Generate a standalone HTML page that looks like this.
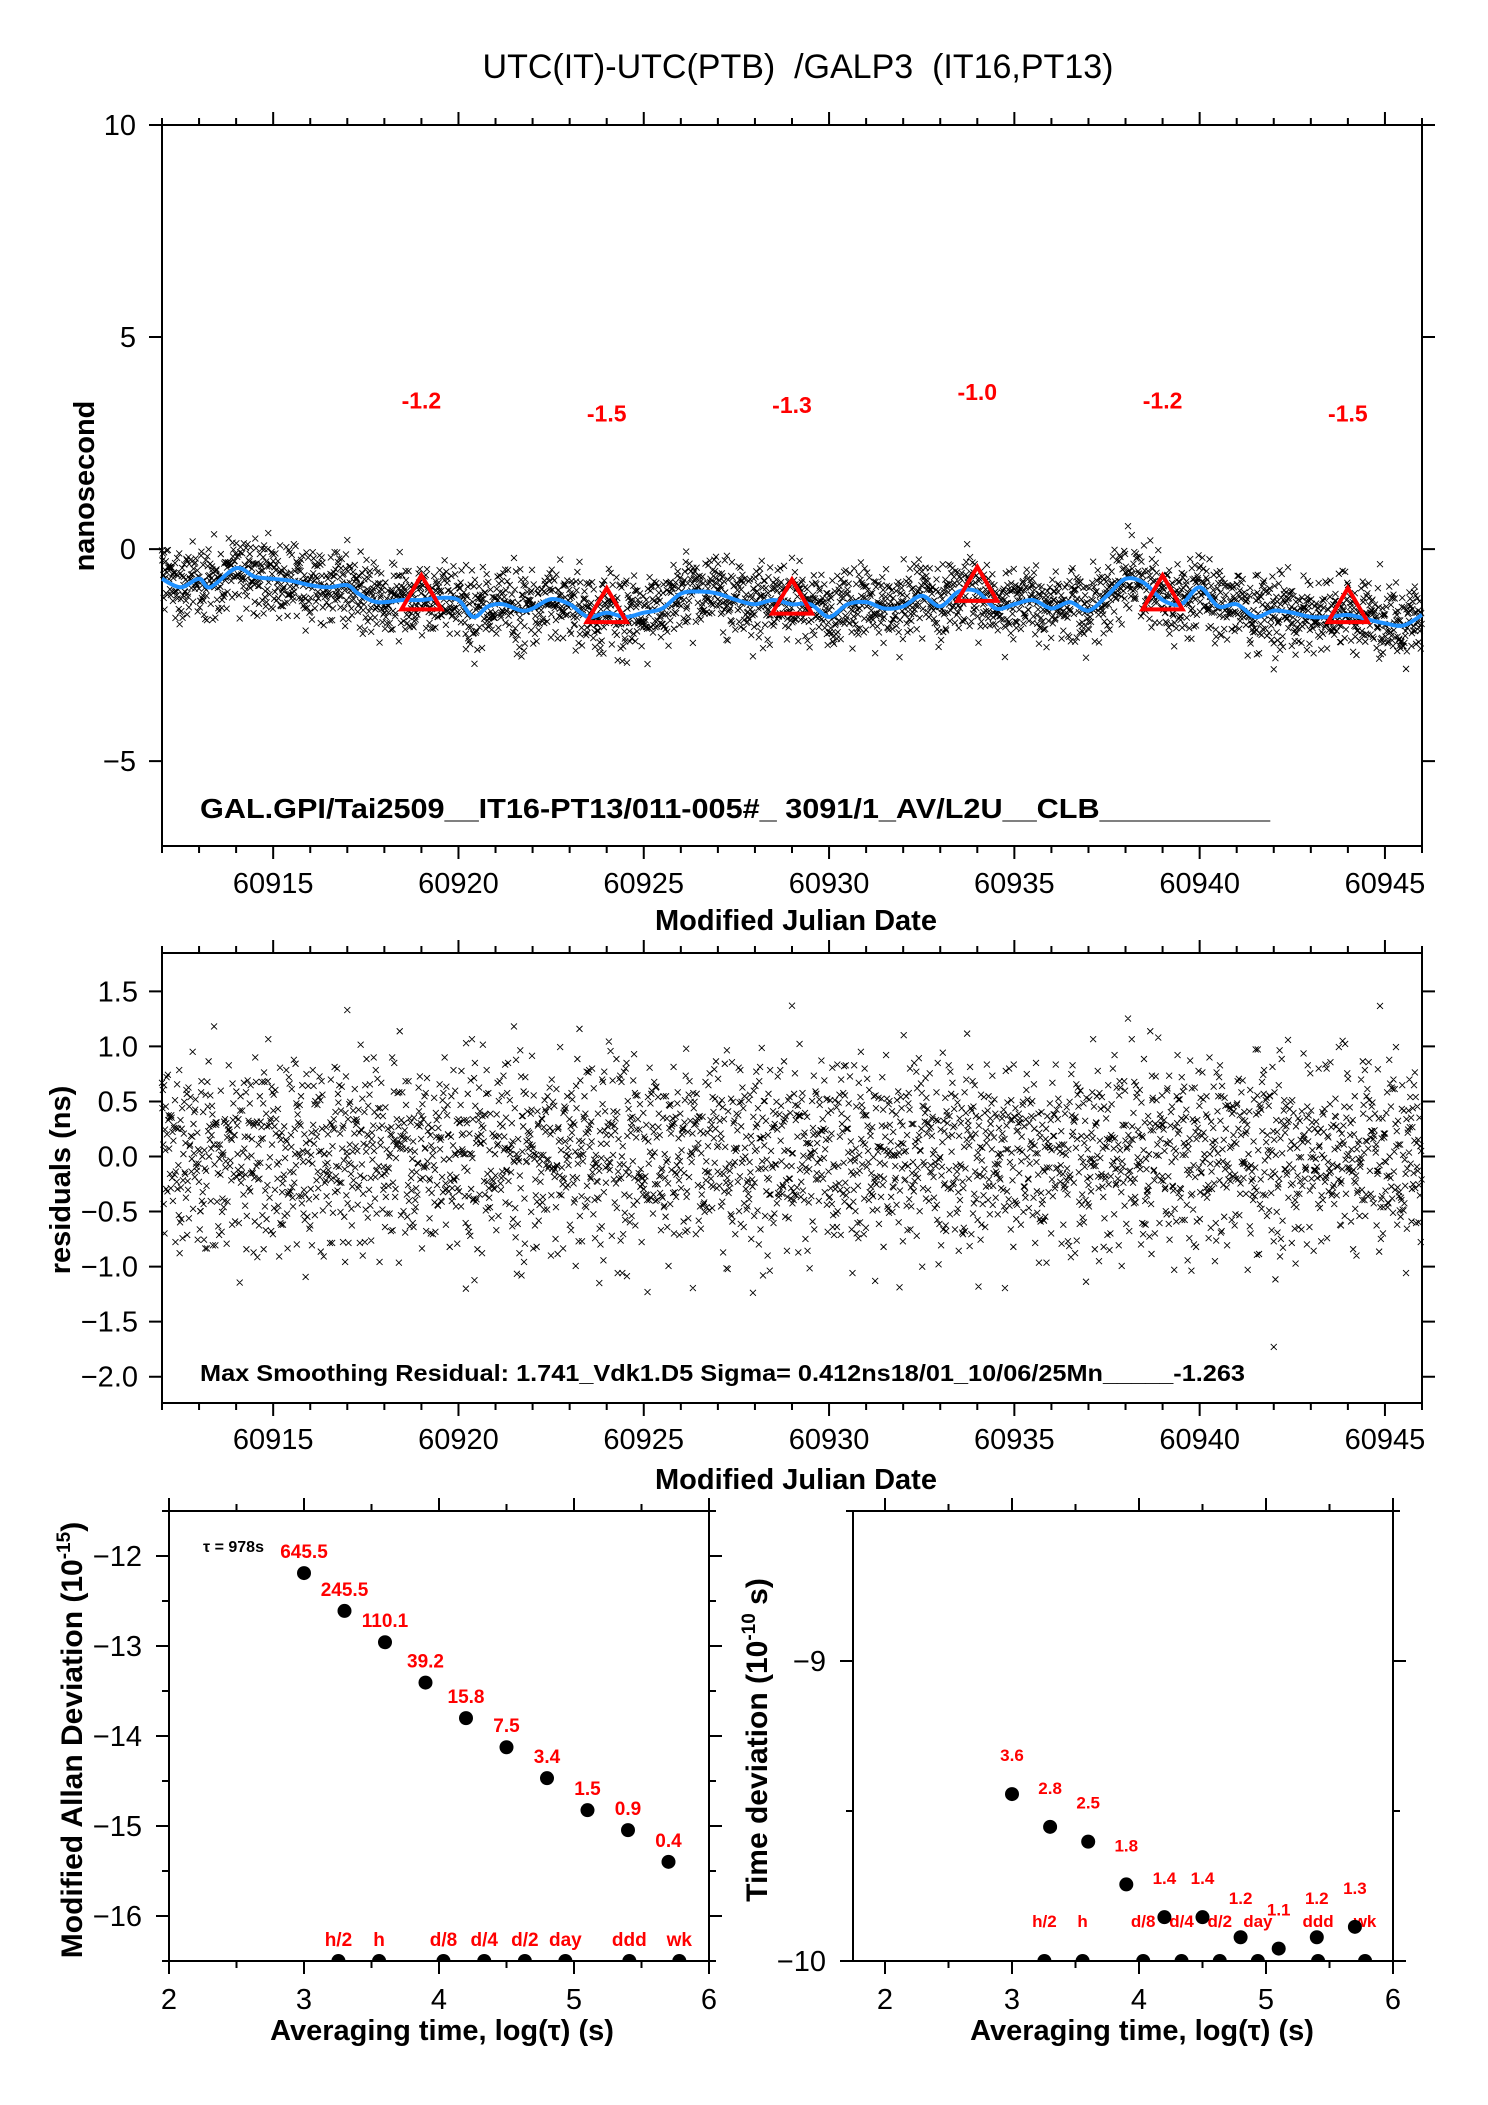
<!DOCTYPE html>
<html><head><meta charset="utf-8"><style>
html,body{margin:0;padding:0;background:#fff;}
svg{display:block;font-family:"Liberation Sans",Arial,sans-serif;}
</style></head><body>
<svg id="fig" width="1488" height="2105" viewBox="0 0 1488 2105" xmlns="http://www.w3.org/2000/svg">
<rect x="0" y="0" width="1488" height="2105" fill="#fff"/>
<text x="798" y="78" font-size="34" text-anchor="middle" xml:space="preserve">UTC(IT)-UTC(PTB)  /GALP3  (IT16,PT13)</text>
<g id="g1"></g>
<g id="g2"></g>
<g id="g3"></g>
<g id="g4"></g>
</svg>
<script>
const smoothT = [60912,60912.5,60913,60913.3,60914,60914.5,60915,60915.5,60916,60916.5,60917,60917.3,60917.8,60918.5,60919,60919.5,60920,60920.4,60920.8,60921.2,60921.7,60922,60922.5,60923,60923.5,60924,60924.5,60925,60925.5,60926,60926.5,60927,60927.5,60928,60928.5,60929,60929.5,60930,60930.5,60931,60931.5,60932,60932.5,60933,60933.5,60934,60934.5,60935,60935.5,60936,60936.5,60937,60937.5,60938,60938.5,60939,60939.5,60940,60940.5,60941,60941.5,60942,60942.5,60943,60943.5,60944,60944.5,60945,60945.5,60946];
const smoothV = [-0.7,-0.9,-0.7,-0.9,-0.45,-0.65,-0.7,-0.75,-0.85,-0.9,-0.85,-1.05,-1.25,-1.2,-1.2,-1.15,-1.2,-1.6,-1.35,-1.3,-1.45,-1.4,-1.18,-1.3,-1.6,-1.5,-1.6,-1.5,-1.4,-1.05,-1.0,-1.05,-1.2,-1.3,-1.2,-1.3,-1.3,-1.6,-1.3,-1.25,-1.4,-1.35,-1.1,-1.35,-1.0,-1.0,-1.4,-1.3,-1.2,-1.4,-1.25,-1.45,-1.1,-0.7,-0.8,-1.2,-1.3,-0.9,-1.35,-1.3,-1.6,-1.45,-1.5,-1.6,-1.6,-1.55,-1.65,-1.75,-1.8,-1.55];
const triT = [60919,60924,60929,60934,60939,60944];
const triV = [-1.2,-1.5,-1.3,-1.0,-1.2,-1.5];
const triLabels = ["-1.2","-1.5","-1.3","-1.0","-1.2","-1.5"];
const residuals = [0.31,-0.12,0.45,-0.38,0.08,0.62,-0.55,0.19,-0.04,0.27,-0.71,0.36,0.02,-0.22,0.51,-0.47,0.14,-0.09,0.73,-0.31,
0.22,-0.64,0.05,0.41,-0.18,0.33,-0.85,0.11,0.58,-0.27,-0.02,0.39,-0.49,0.17,0.66,-0.13,0.24,-0.58,0.07,0.44,
-0.35,0.12,-0.79,0.29,0.53,-0.06,-0.41,0.21,0.88,-0.24,0.03,-0.52,0.37,-0.15,0.61,-0.33,0.09,-0.68,0.26,0.47,
-0.11,0.34,-0.44,0.16,-0.92,0.42,0.01,-0.29,0.55,-0.19,0.28,-0.61,0.13,0.71,-0.37,0.06,-0.26,0.49,-0.53,0.18,
0.35,-0.08,0.63,-0.42,0.1,-0.74,0.23,0.4,-0.16,0.52,-0.32,0.04,-0.57,0.3,0.84,-0.21,0.15,-0.46,0.38,-0.03,
-0.66,0.25,0.57,-0.14,0.43,-0.39,0.07,-0.81,0.32,0.12,-0.23,0.6,-0.5,0.2,-0.07,0.46,-0.34,0.95,-0.17,0.27,
0.11,-0.59,0.36,-0.28,0.69,-0.1,0.19,-0.45,0.54,-0.2,0.0,-0.72,0.41,0.08,-0.36,0.3,-0.62,0.14,0.77,-0.25,
0.5,-0.05,-0.43,0.22,-1.02,0.37,0.16,-0.3,0.64,-0.13,0.29,-0.54,0.09,0.45,-0.4,0.18,-0.67,0.35,-0.01,0.58,
-0.19,0.26,-0.48,0.13,0.81,-0.33,0.05,-0.6,0.4,-0.11,0.21,-0.76,0.32,0.67,-0.22,0.1,-0.37,0.48,-0.56,0.03,
0.39,-0.15,0.6,-0.44,0.24,-0.88,0.17,0.52,-0.09,0.31,-0.27,0.74,-0.51,0.12,-0.03,0.43,-0.35,0.2,-0.65,0.28,
0.93,-0.21,0.08,-0.47,0.56,-0.12,0.34,-0.7,0.15,0.62,-0.31,0.02,-0.55,0.38,-0.18,0.47,-0.41,0.23,-0.96,0.3,
0.06,-0.26,0.51,-0.14,0.71,-0.39,0.19,-0.58,0.42,-0.06,0.27,-0.83,0.36,0.1,-0.29,0.55,-0.49,0.14,0.97,-0.24,
0.33,-0.1,-0.63,0.25,0.46,-0.36,0.04,-0.52,0.6,-0.16,0.21,-0.43,0.09,0.79,-0.32,0.17,-0.69,0.4,-0.02,0.35,
-0.2,0.5,-0.45,0.12,-1.12,0.29,0.65,-0.28,0.07,-0.5,0.37,-0.13,0.57,-0.37,0.18,-0.6,0.44,-0.07,0.24,-0.77,
0.32,0.86,-0.23,0.11,-0.4,0.53,-0.17,0.28,-0.73,0.2,-0.33,0.47,-0.54,0.16,0.69,-0.12,0.3,-0.46,0.05,-0.62];
const outlierT = [60917.0,60929.0,60942.0,60920.2,60923.8];
const outlierV = [1.33,1.37,-1.73,-1.2,-1.15];
const mdevX = [3,3.3,3.6,3.9,4.2,4.5,4.8,5.1,5.4,5.7];
const mdevVal = [645.5,245.5,110.1,39.2,15.8,7.5,3.4,1.5,0.9,0.4];
const mdevLabels = ["645.5","245.5","110.1","39.2","15.8","7.5","3.4","1.5","0.9","0.4"];
const tdevX = [3,3.3,3.6,3.9,4.2,4.5,4.8,5.1,5.4,5.7];
const tdevVal = [3.6,2.8,2.5,1.8,1.4,1.4,1.2,1.1,1.2,1.3];
const tdevLabels = ["3.6","2.8","2.5","1.8","1.4","1.4","1.2","1.1","1.2","1.3"];
const markNames = ["h/2","h","d/8","d/4","d/2","day","ddd","wk"];
const markX = [3.255,3.556,4.033,4.335,4.636,4.936,5.41,5.78];
const topYTicks = [10,5,0,-5];
const topYTickLabels = ["10","5","0","\u22125"];
const resYTicks = [1.5,1.0,0.5,0.0,-0.5,-1.0,-1.5,-2.0];
const resYTickLabels = ["1.5","1.0","0.5","0.0","\u22120.5","\u22121.0","\u22121.5","\u22122.0"];
const mjdTicks = [60915,60920,60925,60930,60935,60940,60945];
const mdevYTicks = [-12,-13,-14,-15,-16];
const mdevYTickLabels = ["\u221212","\u221213","\u221214","\u221215","\u221216"];
const tdevYTicks = [-9,-10];
const tdevYTickLabels = ["\u22129","\u221210"];
const logTicks = [2,3,4,5,6];

const NS='http://www.w3.org/2000/svg';
function mk(tag, attrs, parent){const e=document.createElementNS(NS,tag);for(const k in attrs)e.setAttribute(k,attrs[k]);parent.appendChild(e);return e;}
function lin(d0,d1,r0,r1){return v=>r0+(v-d0)*(r1-r0)/(d1-d0);}
function interp(t){for(let i=0;i<smoothT.length-1;i++){if(t<=smoothT[i+1]){const f=(t-smoothT[i])/(smoothT[i+1]-smoothT[i]);return smoothV[i]+f*(smoothV[i+1]-smoothV[i]);}}return smoothV[smoothV.length-1];}
function frame(g,L,T,R,B){mk('rect',{x:L,y:T,width:R-L,height:B-T,fill:'none',stroke:'#000','stroke-width':2},g);}
const NPTS=3000;
function resAt(i){const N=residuals.length;return 0.72*(residuals[i%N]+residuals[(i*13+5+Math.floor(i/N)*37)%N]);}
function cross(xx,yy){return `M${xx-3},${yy-3}l6,6M${xx-3},${yy+3}l6,-6`;}

(function(){
const g=document.getElementById('g1');
const L=162,R=1422,T=125,B=846;
const x=lin(60912,60946,L,R), y=lin(10,-7,T,B);
frame(g,L,T,R,B);
let p='';
for(let d=60912;d<=60946;d++){const len=(d%5===0)?13:7;const xx=x(d);p+=`M${xx},${B}v${len}M${xx},${T}v${-len}`;}
topYTicks.forEach(v=>{p+=`M${L},${y(v)}h-13M${R},${y(v)}h13`;});
const ax=mk('path',{d:p,stroke:'#000','stroke-width':2,fill:'none'},g);


mjdTicks.forEach(v=>{const t=mk('text',{x:x(v),y:893,'font-size':29,'text-anchor':'middle'},g);t.textContent=v;

});
topYTicks.forEach((v,i)=>{const t=mk('text',{x:136,y:y(v)+10,'font-size':29,'text-anchor':'end'},g);t.textContent=topYTickLabels[i];

});
let sp='';
for(let i=0;i<NPTS;i++){const t=60912+i*34/NPTS;sp+=cross(x(t),y(interp(t)+resAt(i)));}
outlierT.forEach((t,i)=>{sp+=cross(x(t),y(interp(t)+outlierV[i]*0.8));});
const sc=mk('path',{d:sp,stroke:'#000','stroke-width':0.9,fill:'none'},g);


const pts=smoothT.map((t,i)=>[x(t),y(smoothV[i])]);
let c=`M${pts[0][0]},${pts[0][1]}`;
for(let i=0;i<pts.length-1;i++){const p0=pts[Math.max(0,i-1)],p1=pts[i],p2=pts[i+1],p3=pts[Math.min(pts.length-1,i+2)];
 c+=`C${p1[0]+(p2[0]-p0[0])/6},${p1[1]+(p2[1]-p0[1])/6} ${p2[0]-(p3[0]-p1[0])/6},${p2[1]-(p3[1]-p1[1])/6} ${p2[0]},${p2[1]}`;}
const cl=mk('path',{d:c,stroke:'#1e90ff','stroke-width':4,fill:'none'},g);


triT.forEach((t,i)=>{const xx=x(t),yb=y(triV[i]-0.22);
 const tr=mk('path',{d:`M${xx-20},${yb}L${xx},${yb-34}L${xx+20},${yb}Z`,stroke:'#ff0000','stroke-width':4,fill:'none'},g);
 
 
 const lb=mk('text',{x:xx,y:y(triV[i]+4.7)+8,'font-size':23,'font-weight':'bold',fill:'#ff0000','text-anchor':'middle'},g);lb.textContent=triLabels[i];
 
 });
const an=mk('text',{x:200,y:818,'font-size':28,'font-weight':'bold',textLength:1070,lengthAdjust:'spacingAndGlyphs'},g);
an.setAttribute('xml:space','preserve');an.textContent='GAL.GPI/Tai2509__IT16-PT13/011-005#_  3091/1_AV/L2U__CLB__________';


const yt=mk('text',{x:0,y:0,'font-size':29,'font-weight':'bold','text-anchor':'middle',transform:'translate(94,486) rotate(-90)'},g);yt.textContent='nanosecond';


const xt=mk('text',{x:796,y:930,'font-size':29,'font-weight':'bold','text-anchor':'middle'},g);xt.textContent='Modified Julian Date';


})();

(function(){
const g=document.getElementById('g2');
const L=162,R=1422,T=953,B=1403;
const x=lin(60912,60946,L,R), y=lin(0,-2,1156.5,1376.7);
frame(g,L,T,R,B);
let p='';
for(let d=60912;d<=60946;d++){const len=(d%5===0)?13:7;const xx=x(d);p+=`M${xx},${B}v${len}M${xx},${T}v${-len}`;}
resYTicks.forEach(v=>{p+=`M${L},${y(v)}h-13M${R},${y(v)}h13`;});
const ax=mk('path',{d:p,stroke:'#000','stroke-width':2,fill:'none'},g);


mjdTicks.forEach(v=>{const t=mk('text',{x:x(v),y:1449,'font-size':29,'text-anchor':'middle'},g);t.textContent=v;

});
resYTicks.forEach((v,i)=>{const t=mk('text',{x:138,y:y(v)+10,'font-size':29,'text-anchor':'end'},g);t.textContent=resYTickLabels[i];

});
let sp='';
for(let i=0;i<NPTS;i++){const t=60912+i*34/NPTS;sp+=cross(x(t),y(resAt(i)));}
outlierT.forEach((t,i)=>{sp+=cross(x(t),y(outlierV[i]));});
const sc=mk('path',{d:sp,stroke:'#000','stroke-width':0.9,fill:'none'},g);


const an=mk('text',{x:200,y:1381,'font-size':23,'font-weight':'bold',textLength:1045,lengthAdjust:'spacingAndGlyphs'},g);
an.setAttribute('xml:space','preserve');an.textContent='Max Smoothing Residual: 1.741_Vdk1.D5  Sigma= 0.412ns18/01_10/06/25Mn_____-1.263';


const yt=mk('text',{x:0,y:0,'font-size':29,'font-weight':'bold','text-anchor':'middle',transform:'translate(70,1180) rotate(-90)'},g);yt.textContent='residuals (ns)';


const xt=mk('text',{x:796,y:1489,'font-size':29,'font-weight':'bold','text-anchor':'middle'},g);xt.textContent='Modified Julian Date';


})();

function stab(gid,L,R,x0,T,B,y0,y1,yTicks,yLabels,xs,vals,labels,scale,lblFont,prefix,ytitle,ytx,ylabX,ptOff,mkOff){
const g=document.getElementById(gid);
const xs_=lin(2,6,x0,R), y=lin(y0,y1,B,T);
frame(g,L,T,R,B);
let p='';
for(let v=2;v<=6;v+=0.5){const len=(v%1===0)?13:7;const px=xs_(v);p+=`M${px},${B}v${len}M${px},${T}v${-len}`;}
for(let v=Math.ceil(y0*2)/2;v<=y1+1e-6;v+=0.5){const len=(Math.abs(v%1)<1e-6)?13:7;p+=`M${L},${y(v)}h${-len}M${R},${y(v)}h${len}`;}
const ax=mk('path',{d:p,stroke:'#000','stroke-width':2,fill:'none'},g);


logTicks.forEach(v=>{const t=mk('text',{x:xs_(v),y:2009,'font-size':29,'text-anchor':'middle'},g);t.textContent=v;

});
yTicks.forEach((v,i)=>{const t=mk('text',{x:ylabX,y:y(v)+10,'font-size':29,'text-anchor':'end'},g);t.textContent=yLabels[i];

});
const cid=prefix+'-clip';
const cp=mk('clipPath',{id:cid},g);mk('rect',{x:L,y:T,width:R-L,height:B-T},cp);
const mg=mk('g',{'clip-path':`url(#${cid})`},g);
markX.forEach((v,i)=>{const c=mk('circle',{cx:xs_(v),cy:B,r:7,fill:'#000'},mg);


const t=mk('text',{x:xs_(v),y:B-mkOff,'font-size':lblFont,'font-weight':'bold',fill:'#ff0000','text-anchor':'middle'},g);t.textContent=markNames[i];

});
xs.forEach((v,i)=>{const yy=y(Math.log10(vals[i]*scale));const c=mk('circle',{cx:xs_(v),cy:yy,r:7,fill:'#000'},g);


const t=mk('text',{x:xs_(v),y:yy-ptOff,'font-size':lblFont,'font-weight':'bold',fill:'#ff0000','text-anchor':'middle'},g);t.textContent=labels[i];

});
const xt=mk('text',{x:(x0+R)/2+3,y:2040,'font-size':29,'font-weight':'bold','text-anchor':'middle'},g);xt.textContent='Averaging time, log(\u03c4) (s)';


const yt=mk('text',{x:0,y:0,'font-size':30,'font-weight':'bold','text-anchor':'middle',transform:`translate(${ytx},1740) rotate(-90)`},g);
yt.innerHTML=ytitle;


return g;
}
const g3=stab('g3',169,709,169,1511,1961,-16.5,-11.5,mdevYTicks,mdevYTickLabels,mdevX,mdevVal,mdevLabels,1e-15,19,'mdev','Modified Allan Deviation (10<tspan dy="-12" font-size="19">-15</tspan><tspan dy="12">)</tspan>',82,142,15,15);
const tau=mk('text',{x:203,y:1552,'font-size':16,'font-weight':'bold'},g3);tau.textContent='\u03c4 = 978s';


stab('g4',853,1393,885,1511,1961,-10,-8.5,tdevYTicks,tdevYTickLabels,tdevX,tdevVal,tdevLabels,1e-10,17,'tdev','Time deviation (10<tspan dy="-12" font-size="19">-10</tspan><tspan dy="12"> s)</tspan>',767,826,33,34);
</script>
</body></html>
